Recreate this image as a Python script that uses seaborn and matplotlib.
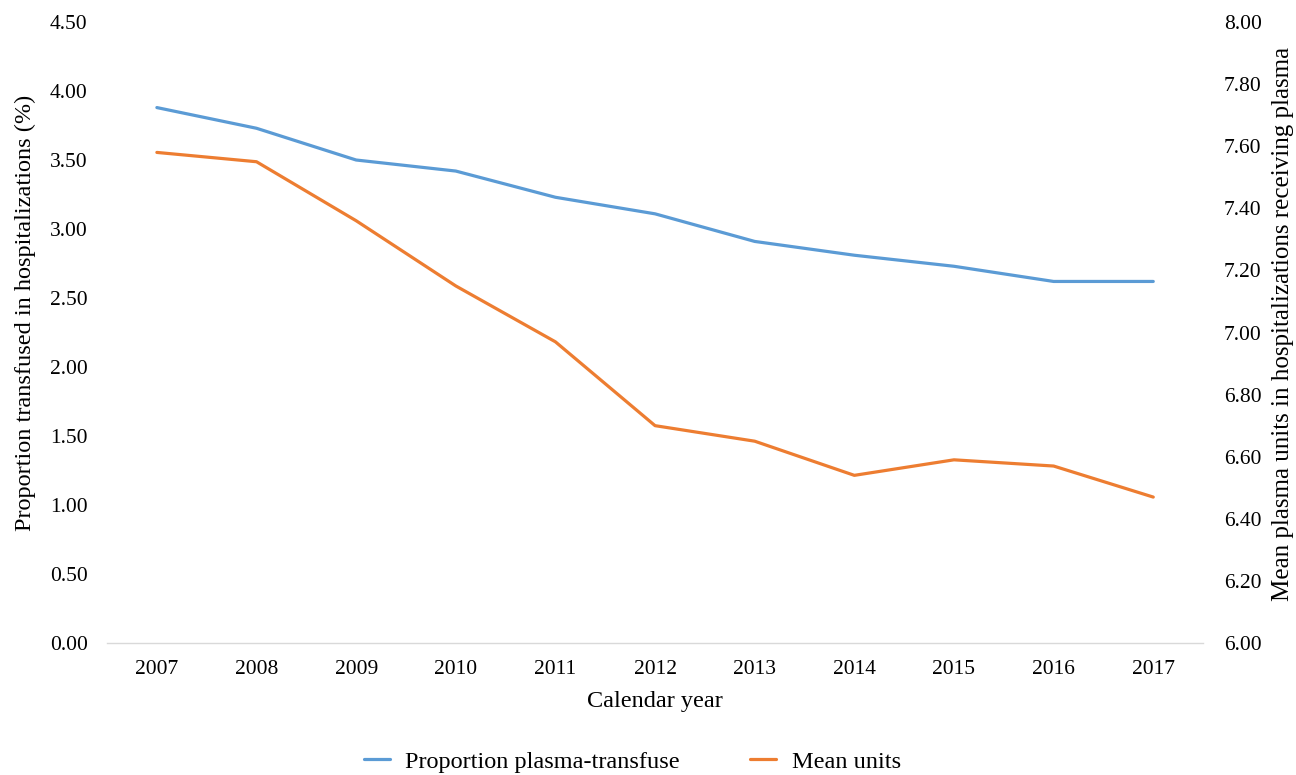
import matplotlib
matplotlib.use("Agg")
import matplotlib.pyplot as plt
import seaborn as sns
import pandas as pd

years = ["2007", "2008", "2009", "2010", "2011", "2012", "2013", "2014", "2015", "2016", "2017"]
proportion_transfused = [3.88, 3.73, 3.50, 3.42, 3.23, 3.11, 2.91, 2.81, 2.73, 2.62, 2.62]
mean_units = [7.58, 7.55, 7.36, 7.15, 6.97, 6.70, 6.65, 6.54, 6.59, 6.57, 6.47]

left_ticks = [0.0, 0.5, 1.0, 1.5, 2.0, 2.5, 3.0, 3.5, 4.0, 4.5]
right_ticks = [6.0, 6.2, 6.4, 6.6, 6.8, 7.0, 7.2, 7.4, 7.6, 7.8, 8.0]

BLUE = "#5B9BD5"
ORANGE = "#ED7D31"

sns.set_theme(style="white")
plt.rcParams["font.family"] = ["Liberation Serif", "DejaVu Serif"]
plt.rcParams["text.color"] = "black"
plt.rcParams["axes.labelcolor"] = "black"
plt.rcParams["xtick.color"] = "black"
plt.rcParams["ytick.color"] = "black"
TICK_FS = 15.5
LABEL_FS = 17.5

df = pd.DataFrame({
    "year": years,
    "prop": proportion_transfused,
    "units": mean_units,
})

fig = plt.figure(figsize=(12.96, 7.75), dpi=100)
ax = fig.add_axes([0.0826, 0.1703, 0.8457, 0.8013])
ax2 = ax.twinx()

sns.lineplot(data=df, x="year", y="prop", ax=ax, color=BLUE, linewidth=2.3,
             label="Proportion plasma-transfuse", legend=False, sort=False)
sns.lineplot(data=df, x="year", y="units", ax=ax2, color=ORANGE, linewidth=2.3,
             label="Mean units", legend=False, sort=False)

ax.set_xlim(-0.5, len(years) - 0.5)
ax.set_ylim(left_ticks[0], left_ticks[-1])
ax2.set_ylim(right_ticks[0], right_ticks[-1])
ax.set_yticks(left_ticks)
ax.set_yticklabels([f"{v:.2f}" for v in left_ticks], fontsize=TICK_FS)
ax2.set_yticks(right_ticks)
ax2.set_yticklabels([f"{v:.2f}" for v in right_ticks], fontsize=TICK_FS)
ax.set_xticks(range(len(years)))
ax.set_xticklabels(years, fontsize=TICK_FS)

for a in (ax, ax2):
    for side in ("top", "left", "right", "bottom"):
        a.spines[side].set_visible(False)
    a.tick_params(axis="both", length=0)
    a.grid(False)
ax.spines["bottom"].set_visible(True)
ax.spines["bottom"].set_color("#D9D9D9")
ax.spines["bottom"].set_linewidth(1.0)

ax.tick_params(axis="y", pad=14)
ax2.tick_params(axis="y", pad=15)
ax.tick_params(axis="x", pad=12)

ax.set_xlabel("Calendar year", fontsize=LABEL_FS, labelpad=9)
ax.set_ylabel("Proportion transfused in hospitalizations (%)", fontsize=LABEL_FS, labelpad=10)
ax2.set_ylabel("Mean plasma units in hospitalizations receiving plasma", fontsize=18, labelpad=7)
ax.yaxis.label.set_y(0.531)
ax2.yaxis.label.set_y(0.514)

h1, l1 = ax.get_legend_handles_labels()
h2, l2 = ax2.get_legend_handles_labels()
fig.legend(h1 + h2, l1 + l2, loc="center", bbox_to_anchor=(0.488, 0.017), ncol=2,
           frameon=False, fontsize=LABEL_FS, handlelength=1.05, handletextpad=0.65,
           columnspacing=2.9)

fig.savefig("out.png", dpi=100)
